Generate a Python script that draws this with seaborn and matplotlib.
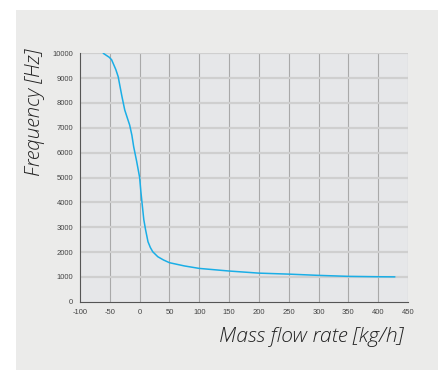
import matplotlib
matplotlib.use("Agg")
import matplotlib.pyplot as plt
import seaborn as sns
import pandas as pd
from matplotlib.patches import Rectangle

# Data
mass_flow = [-61, -51, -47, -44.5, -40, -36, -30, -25, -20, -16.7, -13, -10, -5, 0,
             2, 4.4, 7, 10, 14, 18, 22, 30.5, 40, 50, 75, 100, 150, 200, 250, 300,
             350, 400, 428]
frequency = [10000, 9840, 9740, 9600, 9350, 9060, 8300, 7720, 7350, 7110, 6700,
             6240, 5650, 5000, 4450, 3890, 3300, 2890, 2415, 2180, 2010, 1810, 1680,
             1570, 1440, 1340, 1235, 1150, 1110, 1060, 1020, 1005, 1000]

x_ticks = list(range(-100, 451, 50))
y_ticks = list(range(0, 10001, 1000))

df = pd.DataFrame({"mass": mass_flow, "freq": frequency})

sns.set_style("white")
plt.rcParams["font.family"] = ["Liberation Sans", "DejaVu Sans"]

fig = plt.figure(figsize=(4.39, 3.70), dpi=100)
fig.patch.set_facecolor("white")
fig.patches.append(Rectangle((16 / 439, 0), 1, 1 - 10 / 370, transform=fig.transFigure,
                             facecolor="#ebebea", edgecolor="none", zorder=-10))

ax = fig.add_axes([80 / 439, (370 - 301.7) / 370, 328 / 439, 248.4 / 370])
ax.set_facecolor("#e6e7e9")

sns.lineplot(data=df, x="mass", y="freq", ax=ax, color="#1aaee6", linewidth=1.1)

ax.set_xlim(-100, 450)
ax.set_ylim(0, 10000)
ax.set_xticks(x_ticks)
ax.set_yticks(y_ticks)
ax.set_xticklabels([str(v) for v in x_ticks])
ax.set_yticklabels([str(v) for v in y_ticks])

for v in x_ticks[1:]:
    ax.axvline(v, color="#a9a9a9", linewidth=0.8, zorder=0)
for v in y_ticks[1:]:
    ax.axhline(v, color="#cfcfcf", linewidth=1.6, zorder=0)

for s in ["top", "right"]:
    ax.spines[s].set_visible(False)
for s in ["left", "bottom"]:
    ax.spines[s].set_color("#555555")
    ax.spines[s].set_linewidth(0.8)

ax.tick_params(axis="both", direction="out", length=3, width=0.8, color="#333333",
               labelsize=5.5, labelcolor="#444444", pad=2)

ax.set_xlabel("")
ax.set_ylabel("")
fig.text(403 / 439, 1 - 337 / 370, "Mass flow rate [kg/h]", ha="right", va="center",
         fontsize=15.2, style="italic", weight="light", color="#222222",
         family=["Open Sans", "DejaVu Sans"])
fig.text(35 / 439, 1 - 113 / 370, "Frequency [Hz]", ha="center", va="center",
         rotation=90, fontsize=14.8, style="italic", weight="light", color="#222222",
         family=["Open Sans", "DejaVu Sans"])

fig.savefig("out.png", dpi=100)
